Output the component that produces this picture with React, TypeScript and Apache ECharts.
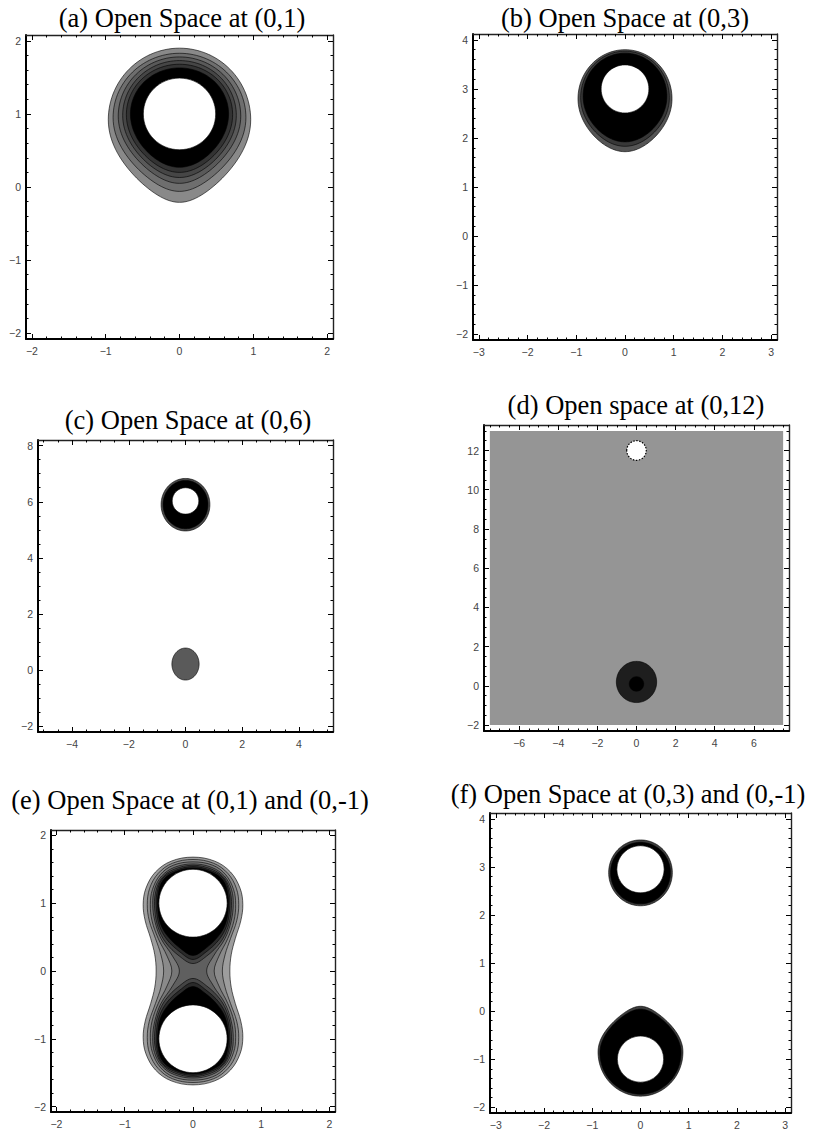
import React, { useEffect, useRef } from 'react';
import * as echarts from 'echarts';

type Pt = [number, number];

// ---------- titles ----------
const panelTitles = [
  '(a) Open Space at (0,1)',
  '(b) Open Space at (0,3)',
  '(c) Open Space at (0,6)',
  '(d) Open space at (0,12)',
  '(e) Open Space at (0,1) and (0,-1)',
  '(f) Open Space at (0,3) and (0,-1)',
];

// ---------- axis ranges and tick labels ----------
const xRangeA = [-2.08, 2.08];
const yRangeA = [-2.08, 2.08];
const ticksA = [-2, -1, 0, 1, 2];

const xRangeB = [-3.12, 3.12];
const yRangeB = [-2.12, 4.12];
const xTicksB = [-3, -2, -1, 0, 1, 2, 3];
const yTicksB = [-2, -1, 0, 1, 2, 3, 4];

const xRangeC = [-5.2, 5.2];
const yRangeC = [-2.2, 8.2];
const xTicksC = [-4, -2, 0, 2, 4];
const yTicksC = [-2, 0, 2, 4, 6, 8];

const xRangeD = [-7.8, 7.8];
const yRangeD = [-2.3, 13.3];
const xTicksD = [-6, -4, -2, 0, 2, 4, 6];
const yTicksD = [-2, 0, 2, 4, 6, 8, 10, 12];

const xRangeE = [-2.08, 2.08];
const yRangeE = [-2.08, 2.08];
const ticksE = [-2, -1, 0, 1, 2];

const xRangeF = [-3.12, 3.12];
const yRangeF = [-2.12, 4.12];
const xTicksF = [-3, -2, -1, 0, 1, 2, 3];
const yTicksF = [-2, -1, 0, 1, 2, 3, 4];

// ---------- contour levels ----------
// Egg-shaped level: [y of widest line, half width, reach up, reach down, taper up, taper down]

// (a) single opening at (0,1)
const aLevels = [
  [0.92, 0.965, 0.98, 1.13, 0, 0.3],
  [0.95, 0.9, 0.88, 1.01, 0, 0.27],
  [0.97, 0.83, 0.81, 0.92, 0, 0.24],
  [0.98, 0.77, 0.75, 0.85, 0, 0.2],
  [0.99, 0.72, 0.69, 0.79, 0, 0.17],
  [1.0, 0.665, 0.63, 0.73, 0, 0.14],
];
const aShades = ['#898989', '#6e6e6e', '#595959', '#464646', '#333333', '#000000'];
const aOpening = { c: [0, 1] as Pt, r: 0.49 };

// (b) opening at (0,3)
const bLevels = [
  [2.8, 0.965, 1.0, 1.08, 0, 0.15],
  [2.82, 0.91, 0.95, 0.99, 0, 0.12],
  [2.85, 0.86, 0.88, 0.93, 0, 0.1],
];
const bShades = ['#555555', '#383838', '#000000'];
const bOpening = { c: [0, 3] as Pt, r: 0.49 };

// (c) opening at (0,6) plus the residual blob near the origin
const cLevels = [
  [5.9, 0.86, 0.93, 0.94, 0, 0],
  [5.9, 0.79, 0.86, 0.86, 0, 0],
];
const cShades = ['#4a4a4a', '#000000'];
const cOpening = { c: [0, 6.03] as Pt, r: 0.47 };
const cBlob = [0.22, 0.48, 0.57, 0.57, 0, 0];
const cBlobShade = '#5a5a5a';

// (d) opening at (0,12) over a flat field
const dField: Pt[] = [[-7.5, -2], [7.5, 13]];
const dFieldShade = '#959595';
const dBlob = [0.2, 1.03, 1.05, 1.05, 0, 0];
const dBlobShade = '#1e1e1e';
const dCore = { c: [0, 0.1] as Pt, r: 0.37 };
const dOpening = { c: [0, 12] as Pt, r: 0.5 };

// (e) openings at (0,1) and (0,-1)
// Outer levels enclose both openings: upper-right quarter, from the top down to the waist (y = 0).
const ePeanuts: Pt[][] = [
  [[0, 1.68], [0.32, 1.62], [0.55, 1.46], [0.69, 1.22], [0.73, 0.98], [0.7, 0.74], [0.62, 0.48], [0.56, 0.24], [0.54, 0]],
  [[0, 1.645], [0.3, 1.59], [0.51, 1.44], [0.635, 1.22], [0.67, 0.98], [0.64, 0.74], [0.55, 0.48], [0.47, 0.24], [0.43, 0]],
  [[0, 1.61], [0.29, 1.56], [0.48, 1.42], [0.595, 1.2], [0.625, 0.98], [0.6, 0.74], [0.51, 0.48], [0.38, 0.22], [0.31, 0]],
  [[0, 1.58], [0.27, 1.53], [0.46, 1.4], [0.565, 1.2], [0.59, 0.98], [0.56, 0.74], [0.47, 0.48], [0.3, 0.22], [0.2, 0]],
];
const ePeanutShades = ['#9d9d9d', '#8a8a8a', '#777777', '#5f5f5f'];
// Inner levels split into one lobe per opening: right half of the upper lobe, top to bottom.
const eLobes: Pt[][] = [
  [[0, 1.56], [0.28, 1.5], [0.46, 1.37], [0.55, 1.15], [0.56, 0.9], [0.51, 0.64], [0.4, 0.42], [0.2, 0.22], [0, 0.11]],
  [[0, 1.54], [0.27, 1.48], [0.45, 1.36], [0.53, 1.14], [0.535, 0.9], [0.49, 0.66], [0.38, 0.46], [0.19, 0.28], [0, 0.17]],
  [[0, 1.52], [0.27, 1.46], [0.44, 1.34], [0.51, 1.14], [0.515, 0.9], [0.47, 0.68], [0.36, 0.5], [0.18, 0.33], [0, 0.23]],
];
const eLobeShades = ['#444444', '#2a2a2a', '#000000'];
const eOpenings = [{ c: [0, 1] as Pt, r: 0.5 }, { c: [0, -1] as Pt, r: 0.5 }];

// (f) openings at (0,3) and (0,-1)
const fUpperLevels = [
  [2.88, 0.66, 0.68, 0.69, 0, 0],
  [2.88, 0.62, 0.63, 0.65, 0, 0],
];
const fLowerLevels = [
  [-0.85, 0.88, 0.95, 0.92, 0.35, 0],
  [-0.87, 0.84, 0.91, 0.86, 0.3, 0],
];
const fShades = ['#3d3d3d', '#000000'];
const fOpenings = [{ c: [0, 2.95] as Pt, r: 0.49 }, { c: [0, -1] as Pt, r: 0.48 }];

// ---------- geometry helpers ----------
type Shape =
  | { kind: 'loop'; pts: Pt[]; fill: string; smooth: number }
  | { kind: 'disc'; c: Pt; r: number; fill: string; dotted?: boolean }
  | { kind: 'box'; a: Pt; b: Pt; fill: string };

function mirrorHalf(right: Pt[], axisX = 0): Pt[] {
  const left: Pt[] = [];
  for (let k = right.length - 2; k >= 1; k--) left.push([2 * axisX - right[k][0], right[k][1]]);
  return right.concat(left);
}

function quarterLoop(q: Pt[]): Pt[] {
  const lower: Pt[] = [];
  for (let k = q.length - 2; k >= 0; k--) lower.push([q[k][0], -q[k][1]]);
  return mirrorHalf(q.concat(lower));
}

// Outline of an egg-shaped level centred on x = 0: two half ellipses joined on the widest line,
// each half optionally narrowed towards its pole.
function eggLoop(lv: number[]): Pt[] {
  const [cy, rx, up, down, tipUp, tipDown] = lv;
  const n = 120;
  const pts: Pt[] = [];
  for (let i = 0; i < n; i++) {
    const t = (i / n) * 2 * Math.PI;
    const s = Math.sin(t);
    const c = Math.cos(t);
    const upper = s >= 0;
    const tip = upper ? tipUp : tipDown;
    pts.push([rx * c * (1 - tip * s * s), cy + (upper ? up : down) * s]);
  }
  return pts;
}

const flipY = (pts: Pt[]): Pt[] => pts.map(([x, y]) => [x, -y] as Pt);

const eggShapes = (levels: number[][], shades: string[]): Shape[] =>
  levels.map((lv, i) => ({ kind: 'loop', pts: eggLoop(lv), fill: shades[i], smooth: 0 }));

const openingShape = (o: { c: Pt; r: number }, dotted = false): Shape => ({ kind: 'disc', c: o.c, r: o.r, fill: '#ffffff', dotted });

const shapesA: Shape[] = [...eggShapes(aLevels, aShades), openingShape(aOpening)];
const shapesB: Shape[] = [...eggShapes(bLevels, bShades), openingShape(bOpening)];
const shapesC: Shape[] = [
  ...eggShapes(cLevels, cShades),
  openingShape(cOpening),
  ...eggShapes([cBlob], [cBlobShade]),
];
const shapesD: Shape[] = [
  { kind: 'box', a: dField[0], b: dField[1], fill: dFieldShade },
  ...eggShapes([dBlob], [dBlobShade]),
  { kind: 'disc', c: dCore.c, r: dCore.r, fill: '#000000' },
  openingShape(dOpening, true),
];
const shapesE: Shape[] = [
  ...ePeanuts.map((q, i) => ({ kind: 'loop', pts: quarterLoop(q), fill: ePeanutShades[i], smooth: 0.36 } as Shape)),
  ...eLobes.flatMap((h, i) => [
    { kind: 'loop', pts: mirrorHalf(h), fill: eLobeShades[i], smooth: 0.36 } as Shape,
    { kind: 'loop', pts: mirrorHalf(flipY(h)), fill: eLobeShades[i], smooth: 0.36 } as Shape,
  ]),
  ...eOpenings.map((o) => openingShape(o)),
];
const shapesF: Shape[] = [
  ...eggShapes(fUpperLevels, fShades),
  ...eggShapes(fLowerLevels, fShades),
  ...fOpenings.map((o) => openingShape(o)),
];

function minorValues(range: number[], step: number, majors: number[]): number[] {
  const out: number[] = [];
  const start = Math.ceil(range[0] / step - 1e-9);
  const end = Math.floor(range[1] / step + 1e-9);
  for (let k = start; k <= end; k++) {
    const v = +(k * step).toFixed(6);
    if (!majors.some((m) => Math.abs(m - v) < 1e-9)) out.push(v);
  }
  return out;
}

const fmt = (v: number) => (v < 0 ? '\u2212' + String(-v) : String(v));

type Panel = {
  grid: { left: number; top: number; width: number; height: number };
  xr: number[]; yr: number[]; xt: number[]; yt: number[]; xm: number; ym: number;
  shapes: Shape[]; title: string; tc: [number, number];
};

const panels: Panel[] = [
  { grid: { left: 26, top: 35, width: 307, height: 304 }, xr: xRangeA, yr: yRangeA, xt: ticksA, yt: ticksA, xm: 0.2, ym: 0.2, shapes: shapesA, title: panelTitles[0], tc: [182, 18] },
  { grid: { left: 473, top: 34, width: 304, height: 306 }, xr: xRangeB, yr: yRangeB, xt: xTicksB, yt: yTicksB, xm: 0.2, ym: 0.2, shapes: shapesB, title: panelTitles[1], tc: [625, 18] },
  { grid: { left: 38, top: 440, width: 295, height: 292 }, xr: xRangeC, yr: yRangeC, xt: xTicksC, yt: yTicksC, xm: 0.5, ym: 0.5, shapes: shapesC, title: panelTitles[2], tc: [188, 420] },
  { grid: { left: 484, top: 425, width: 305, height: 306 }, xr: xRangeD, yr: yRangeD, xt: xTicksD, yt: yTicksD, xm: 0.5, ym: 0.5, shapes: shapesD, title: panelTitles[3], tc: [636, 405] },
  { grid: { left: 51, top: 830, width: 284, height: 282 }, xr: xRangeE, yr: yRangeE, xt: ticksE, yt: ticksE, xm: 0.2, ym: 0.2, shapes: shapesE, title: panelTitles[4], tc: [190, 800] },
  { grid: { left: 490, top: 813, width: 301, height: 301 }, xr: xRangeF, yr: yRangeF, xt: xTicksF, yt: yTicksF, xm: 0.2, ym: 0.2, shapes: shapesF, title: panelTitles[5], tc: [628, 794] },
];

const labelStyle = { color: '#444444', fontSize: 10.5, fontFamily: 'Liberation Sans' };

function axisSet(gi: number, pos: string, range: number[], majors: number[], minorStep: number, labelled: boolean) {
  const heavy = pos === 'bottom' || pos === 'left';
  const base = { gridIndex: gi, type: 'value', position: pos, min: range[0], max: range[1], splitLine: { show: false } };
  return [
    {
      ...base,
      axisLine: { show: true, onZero: false, lineStyle: { color: heavy ? '#000000' : '#222222', width: heavy ? 2 : 1.4 } },
      axisTick: { show: true, inside: true, length: 5, customValues: majors, lineStyle: { color: '#000000', width: 1 } },
      axisLabel: labelled
        ? { show: true, customValues: majors, formatter: fmt, margin: pos === 'left' ? 5 : 6, ...labelStyle }
        : { show: false },
    },
    {
      ...base,
      axisLine: { show: false, onZero: false },
      axisTick: { show: true, inside: true, length: 2.5, customValues: minorValues(range, minorStep, majors), lineStyle: { color: '#000000', width: 1 } },
      axisLabel: { show: false },
    },
  ];
}

function buildOption() {
  const grid: any[] = [];
  const xAxis: any[] = [];
  const yAxis: any[] = [];
  const series: any[] = [];
  const title: any[] = [];
  panels.forEach((p, gi) => {
    grid.push({ ...p.grid, containLabel: false, show: false });
    xAxis.push(...axisSet(gi, 'bottom', p.xr, p.xt, p.xm, true), ...axisSet(gi, 'top', p.xr, p.xt, p.xm, false));
    yAxis.push(...axisSet(gi, 'left', p.yr, p.yt, p.ym, true), ...axisSet(gi, 'right', p.yr, p.yt, p.ym, false));
    title.push({
      text: p.title,
      left: p.tc[0],
      top: p.tc[1],
      textAlign: 'center',
      textVerticalAlign: 'middle',
      padding: 0,
      textStyle: { fontFamily: 'Liberation Serif', fontSize: 26.5, fontWeight: 'normal', color: '#000000' },
    });
    const shapes = p.shapes;
    series.push({
      type: 'custom',
      coordinateSystem: 'cartesian2d',
      xAxisIndex: gi * 4,
      yAxisIndex: gi * 4,
      clip: true,
      silent: true,
      data: shapes.map((s) => (s.kind === 'box' ? s.a : s.kind === 'disc' ? s.c : s.pts[0])),
      renderItem: (params: any, api: any) => {
        const s = shapes[params.dataIndex];
        if (s.kind === 'box') {
          const p0 = api.coord(s.a);
          const p1 = api.coord(s.b);
          return {
            type: 'rect',
            shape: { x: Math.min(p0[0], p1[0]), y: Math.min(p0[1], p1[1]), width: Math.abs(p1[0] - p0[0]), height: Math.abs(p1[1] - p0[1]) },
            style: { fill: s.fill },
          };
        }
        if (s.kind === 'disc') {
          const c = api.coord(s.c);
          const sz = api.size([s.r, s.r], s.c);
          return {
            type: 'ellipse',
            shape: { cx: c[0], cy: c[1], rx: sz[0], ry: sz[1] },
            style: { fill: s.fill, stroke: '#000000', lineWidth: s.dotted ? 1.2 : 0.6, lineDash: s.dotted ? [1.5, 1.5] : null },
          };
        }
        return {
          type: 'polygon',
          shape: { points: s.pts.map((pt) => api.coord(pt)), smooth: s.smooth },
          style: { fill: s.fill, stroke: '#000000', lineWidth: 0.6 },
        };
      },
    });
  });
  return { animation: false, backgroundColor: '#ffffff', title, grid, xAxis, yAxis, series };
}

export default function App() {
  const ref = useRef<HTMLDivElement>(null);
  useEffect(() => {
    if (!ref.current) return;
    const chart = echarts.init(ref.current, null, { renderer: 'svg' });
    chart.setOption(buildOption() as any);
    return () => chart.dispose();
  }, []);
  return (
    <div
      ref={ref}
      style={{ position: 'absolute', left: 0, top: 0, width: 821, height: 1130, background: '#ffffff' }}
    />
  );
}
